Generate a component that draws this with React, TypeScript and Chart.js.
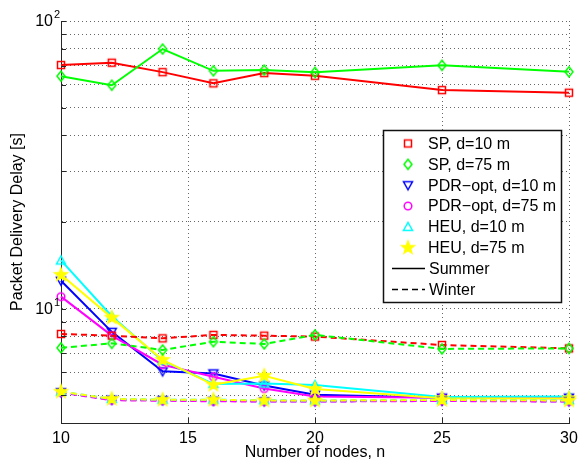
import React, { useEffect, useRef } from 'react';
import { Chart, registerables } from 'chart.js';

Chart.register(...registerables);

const nodes = [10, 12, 14, 16, 18, 20, 25, 30];

const spD10Summer = [70.3, 71.6, 66.4, 60.7, 65.9, 64.5, 57.5, 56.3];
const spD75Summer = [64.3, 59.8, 79.9, 67.1, 67.5, 66.3, 70.1, 66.6];
const pdrD10Summer = [12.5, 8.3, 6.05, 5.95, 5.4, 5.02, 4.9, 4.9];
const pdrD75Summer = [11.0, 8.05, 6.38, 5.79, 5.27, 4.95, 4.9, 4.88];
const heuD10Summer = [14.7, 9.4, 6.59, 5.47, 5.49, 5.42, 4.93, 4.95];
const heuD75Summer = [13.1, 9.3, 6.63, 5.43, 5.84, 5.25, 4.88, 4.87];

const spD10Winter = [8.16, 8.05, 7.88, 8.1, 8.05, 7.99, 7.47, 7.27];
const spD75Winter = [7.3, 7.57, 7.18, 7.67, 7.53, 8.1, 7.24, 7.27];
const pdrD10Winter = [5.12, 4.82, 4.8, 4.78, 4.76, 4.76, 4.78, 4.76];
const pdrD75Winter = [5.1, 4.8, 4.78, 4.76, 4.75, 4.75, 4.77, 4.75];
const heuD10Winter = [5.14, 4.85, 4.82, 4.82, 4.8, 4.79, 4.82, 4.8];
const heuD75Winter = [5.14, 4.85, 4.82, 4.82, 4.79, 4.79, 4.81, 4.79];

const seriesLabels = ['SP, d=10 m', 'SP, d=75 m', 'PDR\u2212opt, d=10 m', 'PDR\u2212opt, d=75 m', 'HEU, d=10 m', 'HEU, d=75 m'];
const seriesColors = ['#ff0000', '#00ff00', '#0000ff', '#ff00ff', '#00ffff', '#ffff00'];
const seriesMarkers = ['square', 'diamond', 'triDown', 'circle', 'triUp', 'star'];
const summerValues = [spD10Summer, spD75Summer, pdrD10Summer, pdrD75Summer, heuD10Summer, heuD75Summer];
const winterValues = [spD10Winter, spD75Winter, pdrD10Winter, pdrD75Winter, heuD10Winter, heuD75Winter];
const seasonLabels = ['Summer', 'Winter'];

const xTickValues = [10, 15, 20, 25, 30];
const yGridValues = [4, 5, 6, 7, 8, 9, 10, 20, 30, 40, 50, 60, 70, 80, 90, 100];
const yLabelDecades = [{ value: 10, exp: '1' }, { value: 100, exp: '2' }];

const FONT = '"Liberation Sans", Arial, Helvetica, sans-serif';

function makeMarker(kind: string, color: string): HTMLCanvasElement {
  const c = document.createElement('canvas');
  c.width = 20;
  c.height = 20;
  const g = c.getContext('2d') as CanvasRenderingContext2D;
  g.translate(10, 10);
  g.strokeStyle = color;
  g.fillStyle = color;
  g.lineWidth = 1.5;
  g.lineJoin = 'miter';
  g.beginPath();
  if (kind === 'square') {
    g.rect(-3.5, -3.5, 7, 7);
  } else if (kind === 'diamond') {
    g.moveTo(0, -5);
    g.lineTo(4, 0);
    g.lineTo(0, 5);
    g.lineTo(-4, 0);
    g.closePath();
  } else if (kind === 'triDown') {
    g.moveTo(-4.5, -3.5);
    g.lineTo(4.5, -3.5);
    g.lineTo(0, 4.5);
    g.closePath();
  } else if (kind === 'circle') {
    g.arc(0, 0, 3.8, 0, Math.PI * 2);
  } else if (kind === 'triUp') {
    g.moveTo(-4.5, 3.5);
    g.lineTo(4.5, 3.5);
    g.lineTo(0, -4.5);
    g.closePath();
  } else if (kind === 'star') {
    const outer = 6.5;
    const inner = 2.7;
    for (let i = 0; i < 10; i++) {
      const r = i % 2 === 0 ? outer : inner;
      const a = -Math.PI / 2 + (i * Math.PI) / 5;
      const px = r * Math.cos(a);
      const py = r * Math.sin(a);
      if (i === 0) g.moveTo(px, py);
      else g.lineTo(px, py);
    }
    g.closePath();
    g.fill();
  }
  g.stroke();
  return c;
}

export default function App() {
  const ref = useRef<HTMLCanvasElement>(null);

  useEffect(() => {
    document.body.style.margin = '0';
    const canvas = ref.current;
    if (!canvas) return;
    const markers = seriesMarkers.map((m, i) => makeMarker(m, seriesColors[i]));

    const datasets: any[] = [];
    const seasons = [summerValues, winterValues];
    seasons.forEach((vals, s) => {
      vals.forEach((arr, i) => {
        datasets.push({
          label: seriesLabels[i] + ' ' + seasonLabels[s],
          data: nodes.map((n, k) => ({ x: n, y: arr[k] })),
          borderColor: seriesColors[i],
          backgroundColor: seriesColors[i],
          borderWidth: 2,
          borderDash: s === 1 ? [6, 4] : [],
          pointStyle: markers[i],
          pointRadius: 5,
          pointHoverRadius: 5,
          tension: 0,
          fill: false,
          clip: false,
        });
      });
    });
    datasets.forEach((d, idx) => {
      d.order = datasets.length - idx;
    });

    const overlay = {
      id: 'overlay',
      afterDraw(chart: any) {
        const { ctx, chartArea: a, scales } = chart;
        const xs = scales.x;
        const ys = scales.y;
        ctx.save();
        // inner tick marks
        ctx.strokeStyle = '#262626';
        ctx.lineWidth = 1;
        ctx.setLineDash([]);
        ctx.beginPath();
        yGridValues.forEach((v) => {
          const py = Math.round(ys.getPixelForValue(v)) + 0.5;
          ctx.moveTo(a.left, py);
          ctx.lineTo(a.left + 5, py);
        });
        xTickValues.forEach((v) => {
          const px = Math.round(xs.getPixelForValue(v)) + 0.5;
          ctx.moveTo(px, a.bottom);
          ctx.lineTo(px, a.bottom - 5);
        });
        ctx.stroke();

        ctx.fillStyle = '#000';
        // y tick labels with superscripts
        yLabelDecades.forEach((d) => {
          const py = ys.getPixelForValue(d.value);
          ctx.font = '16px ' + FONT;
          ctx.textAlign = 'right';
          ctx.textBaseline = 'middle';
          ctx.fillText('10', a.left - 8, py + 1);
          ctx.font = '11px ' + FONT;
          ctx.textAlign = 'left';
          ctx.fillText(d.exp, a.left - 7, py - 6);
        });
        // x tick labels
        ctx.font = '16px ' + FONT;
        ctx.textAlign = 'center';
        ctx.textBaseline = 'alphabetic';
        xTickValues.forEach((v) => {
          ctx.fillText(String(v), xs.getPixelForValue(v), 443);
        });
        // axis titles
        ctx.font = '16px ' + FONT;
        ctx.fillText('Number of nodes, n', (a.left + a.right) / 2, 457);
        ctx.save();
        ctx.translate(18, (a.top + a.bottom) / 2);
        ctx.rotate(-Math.PI / 2);
        ctx.textBaseline = 'middle';
        ctx.fillText('Packet Delivery Delay [s]', 0, 0);
        ctx.restore();

        // legend
        const lx = 383.5;
        const ly = 130.5;
        const lw = 178;
        const lh = 172;
        ctx.fillStyle = '#fff';
        ctx.fillRect(lx, ly, lw, lh);
        ctx.strokeStyle = '#111';
        ctx.lineWidth = 1.5;
        ctx.strokeRect(lx, ly, lw, lh);
        const rowY0 = 143.5;
        const step = 20.85;
        ctx.font = '16px ' + FONT;
        ctx.textAlign = 'left';
        ctx.textBaseline = 'middle';
        ctx.fillStyle = '#000';
        seriesLabels.forEach((lab, i) => {
          const ry = rowY0 + i * step;
          const m = markers[i];
          ctx.drawImage(m, 408 - m.width / 2, ry - m.height / 2);
          ctx.fillText(lab, 428, ry + 1);
        });
        seasonLabels.forEach((lab, s) => {
          const ry = rowY0 + (6 + s) * step;
          ctx.strokeStyle = '#000';
          ctx.lineWidth = 1.5;
          ctx.setLineDash(s === 1 ? [6, 4] : []);
          ctx.beginPath();
          ctx.moveTo(392, ry);
          ctx.lineTo(425, ry);
          ctx.stroke();
          ctx.setLineDash([]);
          ctx.fillText(lab, 429, ry + 1);
        });
        ctx.restore();
      },
    };

    const gridColor = 'rgba(0,0,0,0.6)';
    const chart = new Chart(canvas, {
      type: 'line',
      data: { datasets },
      options: {
        animation: false,
        responsive: false,
        events: [],
        layout: { padding: { left: 61, right: 10, top: 21, bottom: 37 } },
        plugins: { legend: { display: false }, tooltip: { enabled: false } },
        scales: {
          x: {
            type: 'linear',
            min: 10,
            max: 30,
            afterBuildTicks: (scale: any) => {
              scale.ticks = xTickValues.map((v) => ({ value: v }));
            },
            ticks: { display: false },
            grid: { color: gridColor, lineWidth: 1, drawTicks: false },
            border: { display: true, color: '#262626', width: 1, dash: [1, 3] },
          },
          y: {
            type: 'logarithmic',
            min: 4,
            max: 100,
            afterBuildTicks: (scale: any) => {
              scale.ticks = yGridValues.map((v) => ({ value: v }));
            },
            ticks: { display: false },
            grid: { color: gridColor, lineWidth: 1, drawTicks: false },
            border: { display: true, color: '#262626', width: 1, dash: [1, 3] },
          },
        },
      } as any,
      plugins: [overlay],
    });
    return () => chart.destroy();
  }, []);

  return (
    <div style={{ width: 579, height: 460 }}>
      <canvas ref={ref} width={579} height={460} style={{ display: 'block' }} />
    </div>
  );
}
